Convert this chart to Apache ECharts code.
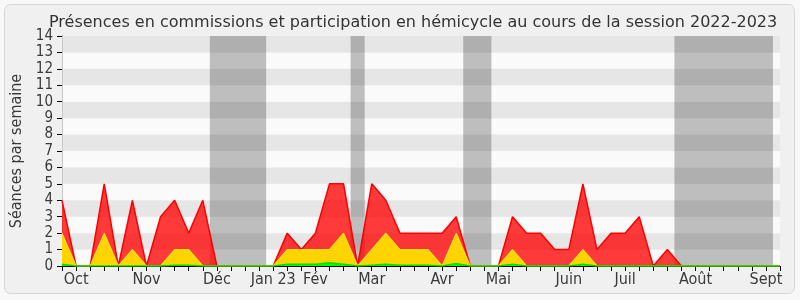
<!DOCTYPE html>
<html><head><meta charset="utf-8">
<script src="https://cdn.jsdelivr.net/npm/echarts@6/dist/echarts.min.js"></script>
<style>html,body{margin:0;padding:0;background:#f8f8f8}#c{width:800px;height:300px}</style>
</head><body><div id="c"></div>
<script>
const chartTitle = 'Présences en commissions et participation en hémicycle au cours de la session 2022-2023';
const yTitle = 'Séances par semaine';
// x tick labels (month names) and the week index where they appear
const monthLabels = ['Oct','Nov','Déc','Jan 23','Fév','Mar','Avr','Mai','Juin','Juil','Août','Sept'];
const monthWeek = [1,6,11,15,18,22,27,31,36,40,45,50];
const weekCount = 52;
// series values, one per week
const presences = [4,0,0,5,0,4,0,3,4,2,4,0,0,0,0,0,2,1,2,5,5,0,5,4,2,2,2,2,3,0,0,0,3,2,2,1,1,5,1,2,2,3,0,1,0,0,0,0,0,0,0,0];
const participations = [2,0,0,2,0,1,0,0,1,1,0,0,0,0,0,0,1,1,1,1,2,0,1,2,1,1,1,0,2,0,0,0,1,0,0,0,0,1,0,0,0,0,0,0,0,0,0,0,0,0,0,0];
const hemicycle = [0.1,0,0,0,0,0,0,0,0.05,0.05,0,0,0,0,0,0,0.1,0.1,0.1,0.2,0.1,0,0.05,0.1,0.05,0.05,0.05,0,0.15,0,0,0,0.1,0,0,0,0,0.1,0,0,0,0,0,0,0,0,0,0,0,0,0,0];
// vacation weeks (first and last week index)
const vacationStart = [11,21,29,44];
const vacationEnd = [14,21,30,50];

const FONT = "'DejaVu Sans Condensed','DejaVu Sans',sans-serif";
const toPairs = arr => arr.map((v,i)=>[i,v]);

const chart = echarts.init(document.getElementById('c'), null, {renderer:'canvas'});
chart.setOption({
  animation:false,
  backgroundColor:'transparent',
  graphic:[{type:'rect', z:-10, shape:{x:4.5,y:4.5,width:790,height:289,r:6},
            style:{fill:'#F0F0F0', stroke:'#D6D6D6', lineWidth:1}}],
  title:{text:chartTitle, left:44, top:10,
    textStyle:{fontFamily:"'DejaVu Sans',sans-serif", fontSize:16, fontWeight:'normal', color:'#333'}},
  grid:{left:62, right:20, top:36, bottom:34},
  xAxis:[{
    type:'value', min:0, max:weekCount-1, interval:1, position:'bottom',
    axisLine:{show:true, onZero:false, lineStyle:{color:'#000', width:1}},
    axisTick:{show:true, length:5, lineStyle:{color:'#000'}},
    splitLine:{show:false},
    axisLabel:{show:true, margin:6, fontFamily:FONT, fontSize:16, color:'#3a3a3a',
      formatter:v=>{const k=monthWeek.indexOf(v); return k>=0?monthLabels[k]:'';}}
  },{
    type:'value', min:0, max:weekCount-1, interval:1, position:'top',
    axisLine:{show:false}, splitLine:{show:false}, axisLabel:{show:false},
    axisTick:{show:true, inside:true, length:1, lineStyle:{color:'#000'}}
  }],
  yAxis:[{
    type:'value', min:0, max:14, interval:1,
    name:yTitle, nameLocation:'middle', nameGap:36, nameRotate:90,
    nameTextStyle:{fontFamily:FONT, fontSize:16, color:'#3a3a3a'},
    axisLine:{show:true, lineStyle:{color:'#000'}},
    axisTick:{show:true, length:5, lineStyle:{color:'#000'}},
    axisLabel:{margin:9, fontFamily:FONT, fontSize:15, color:'#3a3a3a'},
    splitLine:{show:false},
    splitArea:{show:true, areaStyle:{color:['#FAFAFA','#E6E6E6']}}
  },{
    type:'value', min:0, max:14, interval:1, position:'right',
    axisLine:{show:true, lineStyle:{color:'#C8C8C8'}},
    axisTick:{show:false}, axisLabel:{show:false}, splitLine:{show:false}
  }],
  series:[{
    name:'Présences', type:'line', data:toPairs(presences), symbol:'none',
    lineStyle:{color:'#FF0000', width:1.5},
    areaStyle:{color:'#FF0000', opacity:0.77},
    markArea:{silent:true, itemStyle:{color:'rgba(0,0,0,0.24)'},
      data:vacationStart.map((s,k)=>[{xAxis:s-0.5},{xAxis:vacationEnd[k]+0.5}])}
  },{
    name:'Participations', type:'line', data:toPairs(participations), symbol:'none',
    lineStyle:{color:'#FFE020', width:1.2},
    areaStyle:{color:'#FFD400', opacity:1}
  },{
    name:'Hémicycle', type:'line', data:toPairs(hemicycle), symbol:'none',
    lineStyle:{color:'#00E000', width:1.5},
    areaStyle:{color:'#00FF00', opacity:1}
  }]
});
</script></body></html>
